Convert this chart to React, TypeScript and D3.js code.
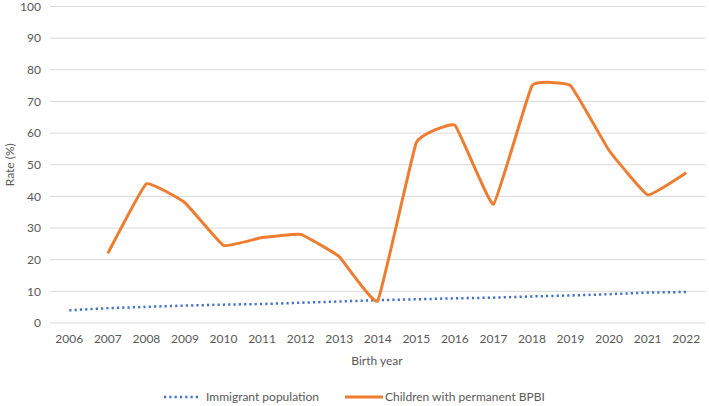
import React from "react";
import * as d3 from "d3";

const years = ["2006","2007","2008","2009","2010","2011","2012","2013","2014","2015","2016","2017","2018","2019","2020","2021","2022"];
const immigrant = [4.0,4.7,5.1,5.5,5.8,6.0,6.4,6.8,7.2,7.5,7.8,8.0,8.4,8.7,9.1,9.6,9.8];
const bpbiYears = ["2007","2008","2009","2010","2011","2012","2013","2014","2015","2016","2017","2018","2019","2020","2021","2022"];
const bpbi = [22,44,38,24.5,27,28,21,7,57,62.5,37.5,75,75,54.5,40.5,47.5];
const yTicks = [0,10,20,30,40,50,60,70,80,90,100];

const W = 709, H = 406;
const FONT = "Lato, 'Open Sans', sans-serif";
const TXT = "#595959";

export default function App() {
  const x = d3.scaleBand().domain(years).range([50, 705.5]);
  const cx = (yr: string) => (x(yr) as number) + x.bandwidth() / 2;
  const y = d3.scaleLinear().domain([0, 100]).range([323, 6.5]);

  const line = d3.line<[string, number]>().x(d => cx(d[0])).y(d => y(d[1]));
  const smooth = d3.line<[string, number]>().x(d => cx(d[0])).y(d => y(d[1])).curve(d3.curveCardinal.tension(0.72));

  const immData = years.map((yr, i) => [yr, immigrant[i]] as [string, number]);
  const bpData = bpbiYears.map((yr, i) => [yr, bpbi[i]] as [string, number]);

  return (
    <svg width={W} height={H} style={{ position: "absolute", left: 0, top: 0, background: "#fff" }} fontFamily={FONT}>
      {yTicks.map(t => (
        <g key={t}>
          <line x1={50} x2={705.5} y1={y(t)} y2={y(t)} stroke="#D9D9D9" strokeWidth={1} />
          <text x={41} y={y(t)} dy="0.35em" textAnchor="end" fontSize={12} fill={TXT}>{t}</text>
        </g>
      ))}
      {years.map(yr => (
        <text key={yr} x={cx(yr)} y={339} dy="0.35em" textAnchor="middle" fontSize={12} fill={TXT}>{yr}</text>
      ))}
      <text transform={`translate(10,${y(50)}) rotate(-90)`} textAnchor="middle" dy="0.35em" fontSize={12} fill={TXT}>Rate (%)</text>
      <text x={377} y={361} dy="0.35em" textAnchor="middle" fontSize={12} fill={TXT}>Birth year</text>

      <path d={line(immData) || ""} fill="none" stroke="#4472C4" strokeWidth={2.5} strokeDasharray="2.2,3.1" />
      <path d={smooth(bpData) || ""} fill="none" stroke="#ED7D31" strokeWidth={3} strokeLinejoin="round" />

      <g>
        <line x1={164} x2={199} y1={397} y2={397} stroke="#4472C4" strokeWidth={2.5} strokeDasharray="2.2,3.1" />
        <text x={206} y={397} dy="0.35em" fontSize={12} fill={TXT}>Immigrant population</text>
        <line x1={345} x2={383} y1={397} y2={397} stroke="#ED7D31" strokeWidth={3} />
        <text x={385} y={397} dy="0.35em" fontSize={12} fill={TXT}>Children with permanent BPBI</text>
      </g>
    </svg>
  );
}
